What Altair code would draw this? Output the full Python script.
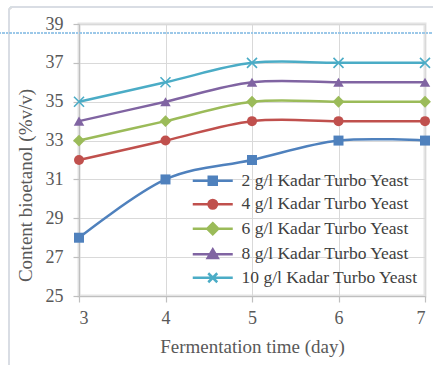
import altair as alt
import pandas as pd

days = [3, 4, 5, 6, 7]
series_names = [
    "2 g/l Kadar Turbo Yeast",
    "4 g/l Kadar Turbo Yeast",
    "6 g/l Kadar Turbo Yeast",
    "8 g/l Kadar Turbo Yeast",
    "10 g/l Kadar Turbo Yeast",
]
yeast_2 = [28, 31, 32, 33, 33]
yeast_4 = [32, 33, 34, 34, 34]
yeast_6 = [33, 34, 35, 35, 35]
yeast_8 = [34, 35, 36, 36, 36]
yeast_10 = [35, 36, 37, 37, 37]
colors = ["#4F81BD", "#C0504D", "#9BBB59", "#8064A2", "#4BACC6"]
y_ticks = [25, 27, 29, 31, 33, 35, 37, 39]
x_ticks = [3, 4, 5, 6, 7]

rows = []
for name, vals in zip(series_names, [yeast_2, yeast_4, yeast_6, yeast_8, yeast_10]):
    for d, v in zip(days, vals):
        rows.append({"day": d, "value": v, "series": name})
df = pd.DataFrame(rows)

FONT = "Liberation Serif"
GRAY = "#595959"

x_enc = alt.X(
    "day:Q",
    scale=alt.Scale(domain=[3, 7], nice=False, zero=False),
    axis=alt.Axis(
        values=x_ticks, format="d", title="Fermentation time (day)",
        titleX=173, titleY=50, titleBaseline="middle",
        labelPadding=7,
    ),
)
y_enc = alt.Y(
    "value:Q",
    scale=alt.Scale(domain=[25, 39], nice=False, zero=False),
    axis=alt.Axis(
        values=y_ticks, format="d", title="Content bioetanol (%v/v)",
        titleX=-54, titleY=161, titleBaseline="middle", titleAngle=-90,
        labelPadding=10,
    ),
)

base = alt.Chart(df)

# decoration: outer frame and dotted header line
frame = base.mark_rect(fill=None, stroke="#D9DDE3", strokeWidth=1.5, cornerRadius=4).encode(
    x=alt.value(-70), x2=alt.value(360), y=alt.value(-17), y2=alt.value(360)
)
dotted = base.mark_rule(stroke="#9CC8E8", strokeWidth=1.5, strokeDash=[2, 1.5]).encode(
    x=alt.value(-80), x2=alt.value(360), y=alt.value(9)
)

markers = [
    ("square", True, 100, 1),
    ("circle", True, 100, 1),
    ("diamond", True, 140, 1),
    ("triangle-up", True, 110, 1),
    ("M-1,-1L1,1M-1,1L1,-1", False, 100, 1.6),
]
line_layers = []
point_layers = []
for name, col, (shape, filled, size, sw) in zip(series_names, colors, markers):
    sub = base.transform_filter(alt.datum.series == name)
    line_layers.append(
        sub.mark_line(interpolate="cardinal", tension=0, strokeWidth=2.5, color=col)
        .encode(x=x_enc, y=y_enc)
    )
    point_layers.append(
        sub.mark_point(shape=shape, filled=filled, size=size, opacity=1, strokeWidth=sw, color=col)
        .encode(x=x_enc, y=y_enc)
    )

legend_paths = [
    "M-4,0H4M-0.8,-0.8H0.8V0.8H-0.8Z",
    "M-4,0H4M0.85,0A0.85,0.85,0,1,1,-0.85,0A0.85,0.85,0,1,1,0.85,0",
    "M-4,0H4M0,-1.1L1.1,0L0,1.1L-1.1,0Z",
    "M-4,0H4M0,-0.95L1,0.75H-1Z",
    "M-4,0H4M-0.9,-0.9L0.9,0.9M-0.9,0.9L0.9,-0.9",
]
legend_layer = (
    base.mark_point(filled=True, opacity=0, size=100)
    .encode(
        x=x_enc,
        y=y_enc,
        fill=alt.Fill("series:N", scale=alt.Scale(domain=series_names, range=colors), title=None),
        stroke=alt.Stroke("series:N", scale=alt.Scale(domain=series_names, range=colors), title=None),
        shape=alt.Shape("series:N", scale=alt.Scale(domain=series_names, range=legend_paths), title=None),
    )
)

chart = (
    alt.layer(frame, dotted, *line_layers, *point_layers, legend_layer)
    .properties(
        width=346, height=272,
        padding={"left": 79, "top": 24, "right": 8, "bottom": 69},
        autosize="none",
    )
    .configure_view(stroke="#E4E4E4", strokeWidth=3)
    .configure_axis(
        grid=True, gridColor="#D9D9D9", gridWidth=1,
        domainColor="#BFBFBF", domainWidth=1.2,
        tickColor="#BFBFBF", tickSize=6, tickWidth=1.2,
        labelFont=FONT, labelFontSize=18, labelColor=GRAY,
        titleFont=FONT, titleFontSize=19, titleColor=GRAY, titleFontWeight="normal",
    )
    .configure_legend(
        orient="none", legendX=125, legendY=148, padding=0,
        symbolSize=100, symbolStrokeWidth=2.5, symbolOpacity=1, labelOffset=20,
        labelFont=FONT, labelFontSize=17.5, labelColor="#404040", labelLimit=400,
        rowPadding=4.5, titlePadding=0,
    )
)

chart.save("out.html", embed_options={"renderer": "svg", "actions": False})
